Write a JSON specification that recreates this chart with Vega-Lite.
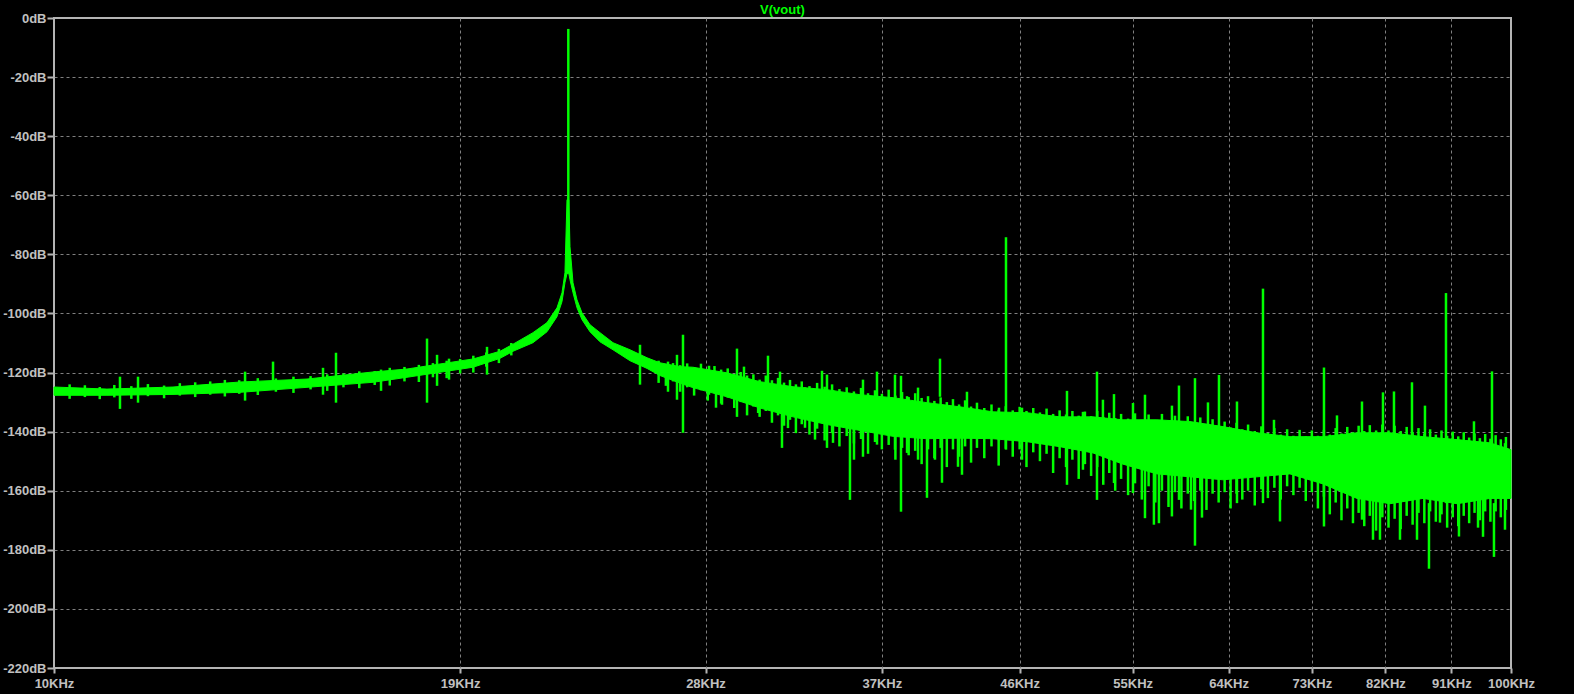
{
 "$schema": "https://vega.github.io/schema/vega-lite/v6.json",
 "width": 1457,
 "height": 650,
 "autosize": {"type": "none"},
 "padding": {"left": 54, "top": 18, "right": 63, "bottom": 26},
 "background": "#000000",
 "title": {"text": "V(vout)", "color": "#00ff00", "font": "Liberation Sans", "fontSize": 13, "fontWeight": "bold", "anchor": "middle", "frame": "group", "offset": -5},
 "config": {
  "view": {"stroke": "#b4b4b4", "strokeWidth": 2, "fill": "#000000"},
  "axis": {"labelFont": "Liberation Sans", "labelFontSize": 13, "labelFontWeight": "bold", "labelColor": "#c0c0c0", "tickColor": "#b4b4b4", "tickWidth": 2, "domain": false, "gridColor": "#808080", "gridDash": [3, 3], "gridWidth": 1, "title": null}
 },
 "datasets": {
  "band": [
   {"f": 10000, "lo": -127.7, "hi": -124.9},
   {"f": 10873, "lo": -127.7, "hi": -125.6},
   {"f": 12069, "lo": -127.4, "hi": -124.9},
   {"f": 13417, "lo": -126.7, "hi": -123.2},
   {"f": 14916, "lo": -125.0, "hi": -122.2},
   {"f": 16556, "lo": -123.3, "hi": -119.8},
   {"f": 17470, "lo": -121.6, "hi": -118.8},
   {"f": 18405, "lo": -119.9, "hi": -117.1},
   {"f": 19392, "lo": -118.2, "hi": -115.4},
   {"f": 20236, "lo": -115.2, "hi": -112.8},
   {"f": 20656, "lo": -112.8, "hi": -110.4},
   {"f": 21318, "lo": -109.9, "hi": -106.5},
   {"f": 21795, "lo": -106.2, "hi": -103.1},
   {"f": 22142, "lo": -101.1, "hi": -98.1},
   {"f": 22318, "lo": -96.0, "hi": -93.0},
   {"f": 22423, "lo": -89.6, "hi": -86.2},
   {"f": 22495, "lo": -86.5, "hi": -61.5},
   {"f": 22560, "lo": -86.5, "hi": -61.5},
   {"f": 22602, "lo": -88.6, "hi": -77.4},
   {"f": 22710, "lo": -93.0, "hi": -89.6},
   {"f": 22854, "lo": -98.1, "hi": -95.4},
   {"f": 23035, "lo": -102.1, "hi": -99.8},
   {"f": 23328, "lo": -106.2, "hi": -103.8},
   {"f": 23700, "lo": -109.6, "hi": -106.5},
   {"f": 24192, "lo": -112.3, "hi": -109.9},
   {"f": 24851, "lo": -116.0, "hi": -112.3},
   {"f": 25528, "lo": -118.6, "hi": -115.0},
   {"f": 26054, "lo": -121.0, "hi": -116.7},
   {"f": 26896, "lo": -123.6, "hi": -118.0},
   {"f": 27447, "lo": -125.1, "hi": -118.2},
   {"f": 28963, "lo": -128.2, "hi": -120.1},
   {"f": 30518, "lo": -132.0, "hi": -123.1},
   {"f": 32152, "lo": -135.0, "hi": -124.8},
   {"f": 33926, "lo": -137.6, "hi": -125.8},
   {"f": 35750, "lo": -139.6, "hi": -127.5},
   {"f": 37662, "lo": -141.6, "hi": -128.5},
   {"f": 39734, "lo": -142.4, "hi": -130.2},
   {"f": 41860, "lo": -142.2, "hi": -131.6},
   {"f": 44098, "lo": -142.4, "hi": -133.3},
   {"f": 46539, "lo": -143.4, "hi": -133.6},
   {"f": 49029, "lo": -145.1, "hi": -135.0},
   {"f": 51652, "lo": -147.2, "hi": -135.0},
   {"f": 54159, "lo": -151.0, "hi": -136.0},
   {"f": 57147, "lo": -154.3, "hi": -136.0},
   {"f": 60206, "lo": -155.3, "hi": -136.6},
   {"f": 63433, "lo": -156.3, "hi": -138.3},
   {"f": 66937, "lo": -155.3, "hi": -140.4},
   {"f": 70516, "lo": -154.3, "hi": -141.7},
   {"f": 74296, "lo": -157.7, "hi": -141.7},
   {"f": 78392, "lo": -162.6, "hi": -140.4},
   {"f": 82597, "lo": -164.4, "hi": -140.4},
   {"f": 87018, "lo": -162.6, "hi": -141.7},
   {"f": 91826, "lo": -164.4, "hi": -142.7},
   {"f": 96737, "lo": -162.6, "hi": -143.8},
   {"f": 100000, "lo": -162.6, "hi": -146.1}
  ],
  "noise": [
   {"f": 10250, "lo": -128.9, "hi": -124.0},
   {"f": 10500, "lo": -128.3, "hi": -124.3},
   {"f": 10750, "lo": -129.0, "hi": -124.9},
   {"f": 11000, "lo": -128.4, "hi": -124.2},
   {"f": 11300, "lo": -128.9, "hi": -124.6},
   {"f": 11600, "lo": -128.0, "hi": -123.9},
   {"f": 11900, "lo": -128.7, "hi": -124.4},
   {"f": 12200, "lo": -127.8, "hi": -123.6},
   {"f": 12500, "lo": -128.3, "hi": -123.3},
   {"f": 12800, "lo": -127.5, "hi": -123.0},
   {"f": 13100, "lo": -128.1, "hi": -122.5},
   {"f": 13400, "lo": -127.2, "hi": -122.6},
   {"f": 13800, "lo": -127.6, "hi": -121.9},
   {"f": 14200, "lo": -126.5, "hi": -122.0},
   {"f": 14600, "lo": -126.9, "hi": -121.4},
   {"f": 15000, "lo": -125.7, "hi": -121.2},
   {"f": 15400, "lo": -126.2, "hi": -120.6},
   {"f": 15800, "lo": -125.0, "hi": -120.3},
   {"f": 16200, "lo": -125.3, "hi": -119.6},
   {"f": 16600, "lo": -124.2, "hi": -119.5},
   {"f": 17000, "lo": -124.4, "hi": -118.4},
   {"f": 17400, "lo": -123.0, "hi": -118.1},
   {"f": 17800, "lo": -123.2, "hi": -117.4},
   {"f": 18200, "lo": -121.6, "hi": -116.8},
   {"f": 18600, "lo": -121.9, "hi": -116.0},
   {"f": 19000, "lo": -120.3, "hi": -115.4},
   {"f": 19400, "lo": -120.0, "hi": -114.3},
   {"f": 19800, "lo": -118.0, "hi": -113.2},
   {"f": 20200, "lo": -116.8, "hi": -112.0},
   {"f": 20600, "lo": -114.2, "hi": -110.0},
   {"f": 26000, "lo": -123.5, "hi": -116.0},
   {"f": 26300, "lo": -124.5, "hi": -117.2},
   {"f": 26600, "lo": -123.0, "hi": -116.8},
   {"f": 26900, "lo": -126.5, "hi": -117.5},
   {"f": 27200, "lo": -125.0, "hi": -116.9},
   {"f": 27500, "lo": -127.8, "hi": -118.3},
   {"f": 27800, "lo": -126.0, "hi": -117.0},
   {"f": 28100, "lo": -129.5, "hi": -118.9},
   {"f": 28400, "lo": -127.0, "hi": -117.8},
   {"f": 28700, "lo": -130.5, "hi": -119.0},
   {"f": 29000, "lo": -128.5, "hi": -118.6},
   {"f": 29300, "lo": -132.0, "hi": -120.5},
   {"f": 29600, "lo": -130.0, "hi": -119.8},
   {"f": 29900, "lo": -134.5, "hi": -121.0},
   {"f": 30200, "lo": -131.5, "hi": -120.6},
   {"f": 30500, "lo": -135.0, "hi": -122.4},
   {"f": 30800, "lo": -133.0, "hi": -121.0},
   {"f": 31100, "lo": -137.0, "hi": -122.6},
   {"f": 31400, "lo": -134.5, "hi": -121.8},
   {"f": 31700, "lo": -138.0, "hi": -123.4},
   {"f": 32000, "lo": -136.0, "hi": -122.5},
   {"f": 32300, "lo": -140.5, "hi": -124.0},
   {"f": 32600, "lo": -137.5, "hi": -123.0},
   {"f": 33000, "lo": -141.0, "hi": -124.6},
   {"f": 33400, "lo": -139.0, "hi": -123.5},
   {"f": 33800, "lo": -143.0, "hi": -124.8},
   {"f": 34200, "lo": -140.5, "hi": -124.0},
   {"f": 34600, "lo": -145.0, "hi": -125.6},
   {"f": 35000, "lo": -141.5, "hi": -125.0},
   {"f": 35400, "lo": -144.0, "hi": -126.4},
   {"f": 35800, "lo": -142.5, "hi": -125.2},
   {"f": 36200, "lo": -147.5, "hi": -127.0},
   {"f": 36600, "lo": -143.5, "hi": -126.0},
   {"f": 37000, "lo": -146.0, "hi": -127.2},
   {"f": 37400, "lo": -144.5, "hi": -125.8},
   {"f": 37800, "lo": -149.5, "hi": -127.8},
   {"f": 38200, "lo": -145.5, "hi": -126.6},
   {"f": 38600, "lo": -148.0, "hi": -128.3},
   {"f": 39000, "lo": -146.5, "hi": -127.0},
   {"f": 39400, "lo": -151.0, "hi": -128.6},
   {"f": 39800, "lo": -146.0, "hi": -128.0},
   {"f": 40200, "lo": -149.0, "hi": -129.6},
   {"f": 40600, "lo": -145.5, "hi": -128.4},
   {"f": 41000, "lo": -152.0, "hi": -130.0},
   {"f": 41400, "lo": -146.0, "hi": -129.0},
   {"f": 41800, "lo": -148.5, "hi": -130.8},
   {"f": 42200, "lo": -145.0, "hi": -129.4},
   {"f": 42600, "lo": -150.5, "hi": -131.5},
   {"f": 43000, "lo": -145.5, "hi": -130.2},
   {"f": 43500, "lo": -149.0, "hi": -132.0},
   {"f": 44000, "lo": -145.0, "hi": -130.8},
   {"f": 44500, "lo": -151.5, "hi": -132.6},
   {"f": 45000, "lo": -145.8, "hi": -131.4},
   {"f": 45500, "lo": -148.5, "hi": -132.8},
   {"f": 46000, "lo": -146.0, "hi": -131.6},
   {"f": 46500, "lo": -152.0, "hi": -133.0},
   {"f": 47000, "lo": -147.0, "hi": -132.0},
   {"f": 47500, "lo": -150.0, "hi": -133.5},
   {"f": 48000, "lo": -147.5, "hi": -132.2},
   {"f": 48500, "lo": -154.0, "hi": -134.0},
   {"f": 49000, "lo": -149.0, "hi": -132.8},
   {"f": 49500, "lo": -152.0, "hi": -134.2},
   {"f": 50000, "lo": -149.5, "hi": -133.0},
   {"f": 50500, "lo": -156.0, "hi": -134.6},
   {"f": 51000, "lo": -151.0, "hi": -133.2},
   {"f": 51500, "lo": -155.0, "hi": -134.8},
   {"f": 52000, "lo": -152.0, "hi": -133.0},
   {"f": 52500, "lo": -158.0, "hi": -135.0},
   {"f": 53000, "lo": -154.0, "hi": -133.6},
   {"f": 53500, "lo": -160.0, "hi": -135.4},
   {"f": 54000, "lo": -156.0, "hi": -134.0},
   {"f": 54600, "lo": -161.5, "hi": -135.6},
   {"f": 55200, "lo": -157.5, "hi": -133.8},
   {"f": 55800, "lo": -163.0, "hi": -136.0},
   {"f": 56400, "lo": -158.5, "hi": -134.2},
   {"f": 57000, "lo": -164.0, "hi": -136.4},
   {"f": 57600, "lo": -160.0, "hi": -134.0},
   {"f": 58200, "lo": -165.5, "hi": -136.2},
   {"f": 58800, "lo": -160.5, "hi": -134.6},
   {"f": 59400, "lo": -166.0, "hi": -136.8},
   {"f": 60000, "lo": -161.0, "hi": -134.8},
   {"f": 60600, "lo": -163.5, "hi": -137.0},
   {"f": 61200, "lo": -160.0, "hi": -135.2},
   {"f": 61800, "lo": -166.5, "hi": -137.4},
   {"f": 62400, "lo": -161.0, "hi": -135.8},
   {"f": 63000, "lo": -164.0, "hi": -138.0},
   {"f": 63600, "lo": -160.5, "hi": -136.6},
   {"f": 64200, "lo": -166.0, "hi": -138.6},
   {"f": 64800, "lo": -161.0, "hi": -137.0},
   {"f": 65400, "lo": -163.0, "hi": -139.2},
   {"f": 66000, "lo": -160.0, "hi": -137.6},
   {"f": 66700, "lo": -165.0, "hi": -139.8},
   {"f": 67400, "lo": -159.5, "hi": -138.2},
   {"f": 68100, "lo": -162.5, "hi": -140.4},
   {"f": 68800, "lo": -159.0, "hi": -138.8},
   {"f": 69500, "lo": -163.0, "hi": -141.0},
   {"f": 70200, "lo": -158.5, "hi": -139.2},
   {"f": 70900, "lo": -161.5, "hi": -141.4},
   {"f": 71600, "lo": -159.0, "hi": -139.4},
   {"f": 72300, "lo": -163.5, "hi": -141.6},
   {"f": 73000, "lo": -160.5, "hi": -139.6},
   {"f": 73700, "lo": -166.0, "hi": -141.4},
   {"f": 74400, "lo": -162.0, "hi": -139.4},
   {"f": 75100, "lo": -168.0, "hi": -141.0},
   {"f": 75800, "lo": -164.0, "hi": -138.8},
   {"f": 76500, "lo": -170.0, "hi": -140.6},
   {"f": 77200, "lo": -166.0, "hi": -138.4},
   {"f": 77900, "lo": -171.0, "hi": -140.2},
   {"f": 78600, "lo": -167.5, "hi": -138.0},
   {"f": 79300, "lo": -172.0, "hi": -139.8},
   {"f": 80000, "lo": -168.5, "hi": -137.8},
   {"f": 80800, "lo": -173.5, "hi": -139.6},
   {"f": 81600, "lo": -169.0, "hi": -137.6},
   {"f": 82400, "lo": -172.5, "hi": -139.6},
   {"f": 83200, "lo": -169.5, "hi": -138.0},
   {"f": 84000, "lo": -173.0, "hi": -139.8},
   {"f": 84800, "lo": -168.5, "hi": -138.4},
   {"f": 85600, "lo": -171.5, "hi": -140.2},
   {"f": 86400, "lo": -167.5, "hi": -138.8},
   {"f": 87200, "lo": -171.0, "hi": -140.6},
   {"f": 88000, "lo": -167.0, "hi": -139.2},
   {"f": 88800, "lo": -170.5, "hi": -141.0},
   {"f": 89600, "lo": -168.0, "hi": -139.6},
   {"f": 90400, "lo": -172.5, "hi": -141.4},
   {"f": 91200, "lo": -169.0, "hi": -140.0},
   {"f": 92000, "lo": -172.0, "hi": -141.6},
   {"f": 92800, "lo": -168.5, "hi": -140.2},
   {"f": 93600, "lo": -171.0, "hi": -142.0},
   {"f": 94400, "lo": -167.5, "hi": -140.6},
   {"f": 95200, "lo": -170.0, "hi": -142.2},
   {"f": 96000, "lo": -167.0, "hi": -140.8},
   {"f": 96800, "lo": -170.5, "hi": -142.4},
   {"f": 97600, "lo": -167.0, "hi": -141.2},
   {"f": 98400, "lo": -169.0, "hi": -142.6},
   {"f": 99200, "lo": -166.5, "hi": -141.8}
  ],
  "spikes": [
   {"f": 11099, "lo": -132.3, "hi": -121.4},
   {"f": 11420, "lo": -130.2, "hi": -121.4},
   {"f": 13525, "lo": -129.5, "hi": -119.7},
   {"f": 14136, "lo": -123.1, "hi": -116.3},
   {"f": 15298, "lo": -127.5, "hi": -118.4},
   {"f": 15615, "lo": -130.2, "hi": -113.3},
   {"f": 16767, "lo": -126.2, "hi": -119.0},
   {"f": 18031, "lo": -130.2, "hi": -108.5},
   {"f": 18319, "lo": -124.5, "hi": -114.0},
   {"f": 18669, "lo": -122.4, "hi": -115.3},
   {"f": 19824, "lo": -120.7, "hi": -111.3},
   {"f": 22542, "lo": -85.0, "hi": -3.7},
   {"f": 25246, "lo": -124.1, "hi": -110.6},
   {"f": 26388, "lo": -126.5, "hi": -116.3},
   {"f": 26766, "lo": -129.2, "hi": -114.0},
   {"f": 27021, "lo": -140.4, "hi": -107.2},
   {"f": 28155, "lo": -127.5, "hi": -117.7},
   {"f": 28468, "lo": -131.9, "hi": -119.7},
   {"f": 28739, "lo": -130.9, "hi": -120.7},
   {"f": 29428, "lo": -135.0, "hi": -111.9},
   {"f": 29756, "lo": -130.2, "hi": -118.0},
   {"f": 30428, "lo": -133.7, "hi": -124.0},
   {"f": 30906, "lo": -127.5, "hi": -114.3},
   {"f": 31498, "lo": -132.6, "hi": -119.7},
   {"f": 31597, "lo": -145.5, "hi": -130.9},
   {"f": 31898, "lo": -138.8, "hi": -125.0},
   {"f": 32768, "lo": -138.7, "hi": -125.0},
   {"f": 33290, "lo": -142.7, "hi": -126.0},
   {"f": 33659, "lo": -130.9, "hi": -119.4},
   {"f": 33926, "lo": -145.5, "hi": -120.7},
   {"f": 34250, "lo": -143.8, "hi": -126.0},
   {"f": 35181, "lo": -163.1, "hi": -138.3},
   {"f": 35405, "lo": -149.5, "hi": -127.5},
   {"f": 35912, "lo": -148.5, "hi": -122.4},
   {"f": 36716, "lo": -144.4, "hi": -119.7},
   {"f": 37775, "lo": -146.1, "hi": -120.7},
   {"f": 38135, "lo": -167.1, "hi": -121.1},
   {"f": 38501, "lo": -147.2, "hi": -128.0},
   {"f": 39176, "lo": -149.5, "hi": -125.1},
   {"f": 39734, "lo": -162.4, "hi": -132.6},
   {"f": 40240, "lo": -149.5, "hi": -131.0},
   {"f": 40559, "lo": -128.2, "hi": -115.3},
   {"f": 40688, "lo": -157.3, "hi": -132.6},
   {"f": 41730, "lo": -151.9, "hi": -133.0},
   {"f": 41994, "lo": -154.6, "hi": -136.0},
   {"f": 42326, "lo": -139.4, "hi": -126.5},
   {"f": 44523, "lo": -143.0, "hi": -131.9},
   {"f": 45018, "lo": -146.1, "hi": -74.2},
   {"f": 46171, "lo": -149.5, "hi": -131.9},
   {"f": 49574, "lo": -158.0, "hi": -126.2},
   {"f": 50842, "lo": -152.9, "hi": -133.3},
   {"f": 51981, "lo": -163.1, "hi": -119.7},
   {"f": 52472, "lo": -140.0, "hi": -129.2},
   {"f": 53397, "lo": -157.4, "hi": -127.3},
   {"f": 55024, "lo": -160.8, "hi": -130.3},
   {"f": 56077, "lo": -169.3, "hi": -127.5},
   {"f": 56875, "lo": -171.5, "hi": -152.9},
   {"f": 57327, "lo": -171.0, "hi": -152.9},
   {"f": 58517, "lo": -168.7, "hi": -131.2},
   {"f": 59172, "lo": -163.1, "hi": -124.4},
   {"f": 60307, "lo": -166.4, "hi": -140.0},
   {"f": 60688, "lo": -178.6, "hi": -121.9},
   {"f": 61363, "lo": -169.1, "hi": -140.0},
   {"f": 61947, "lo": -150.0, "hi": -130.1},
   {"f": 63033, "lo": -140.0, "hi": -120.8},
   {"f": 64852, "lo": -164.2, "hi": -129.8},
   {"f": 67573, "lo": -164.2, "hi": -91.6},
   {"f": 68758, "lo": -150.0, "hi": -136.0},
   {"f": 69413, "lo": -170.4, "hi": -152.9},
   {"f": 74412, "lo": -172.1, "hi": -118.3},
   {"f": 75957, "lo": -157.3, "hi": -134.5},
   {"f": 79017, "lo": -169.8, "hi": -129.8},
   {"f": 80405, "lo": -176.6, "hi": -150.0},
   {"f": 81296, "lo": -176.6, "hi": -152.9},
   {"f": 81683, "lo": -150.0, "hi": -126.7},
   {"f": 83116, "lo": -150.0, "hi": -126.4},
   {"f": 83908, "lo": -176.6, "hi": -152.9},
   {"f": 85513, "lo": -150.0, "hi": -123.3},
   {"f": 86195, "lo": -176.6, "hi": -150.0},
   {"f": 87288, "lo": -150.0, "hi": -131.2},
   {"f": 87842, "lo": -186.4, "hi": -164.2},
   {"f": 89380, "lo": -170.8, "hi": -150.0},
   {"f": 90234, "lo": -164.2, "hi": -93.1},
   {"f": 92106, "lo": -175.5, "hi": -164.2},
   {"f": 94317, "lo": -150.0, "hi": -136.5},
   {"f": 94922, "lo": -172.5, "hi": -150.0},
   {"f": 95674, "lo": -175.6, "hi": -150.0},
   {"f": 97039, "lo": -150.0, "hi": -119.6},
   {"f": 97345, "lo": -182.4, "hi": -164.2},
   {"f": 99056, "lo": -173.2, "hi": -143.9}
  ]
 },
 "layer": [
  {
   "data": {"name": "band"},
   "mark": {"type": "area", "color": "#00ff00", "stroke": "#00ff00", "strokeWidth": 1, "opacity": 1},
   "encoding": {
    "x": {
     "field": "f", "type": "quantitative",
     "scale": {"type": "log", "domain": [10000, 100000], "nice": false},
     "axis": {
      "values": [10000, 19000, 28000, 37000, 46000, 55000, 64000, 73000, 82000, 91000, 100000],
      "labelExpr": "(datum.value / 1000) + 'KHz'",
      "tickSize": 5, "labelPadding": 4, "labelFlush": false, "labelOverlap": false, "labelBound": false,
      "gridOpacity": {"condition": {"test": "datum.value == 10000 || datum.value == 100000", "value": 0}, "value": 1}
     }
    },
    "y": {
     "field": "lo", "type": "quantitative",
     "scale": {"domain": [-220, 0], "nice": false, "zero": false},
     "axis": {
      "values": [-220, -200, -180, -160, -140, -120, -100, -80, -60, -40, -20, 0],
      "labelExpr": "datum.value + 'dB'",
      "tickSize": 7, "labelPadding": 1, "labelFlush": false, "labelOverlap": false, "labelBound": false,
      "gridOpacity": {"condition": {"test": "datum.value == 0 || datum.value == -220", "value": 0}, "value": 1}
     }
    },
    "y2": {"field": "hi"}
   }
  },
  {
   "data": {"name": "noise"},
   "mark": {"type": "rule", "color": "#00ff00", "strokeWidth": 2.5},
   "encoding": {
    "x": {"field": "f", "type": "quantitative"},
    "y": {"field": "lo", "type": "quantitative"},
    "y2": {"field": "hi"}
   }
  },
  {
   "data": {"name": "spikes"},
   "mark": {"type": "rule", "color": "#00ff00", "strokeWidth": 2.5},
   "encoding": {
    "x": {"field": "f", "type": "quantitative"},
    "y": {"field": "lo", "type": "quantitative"},
    "y2": {"field": "hi"}
   }
  }
 ]
}
